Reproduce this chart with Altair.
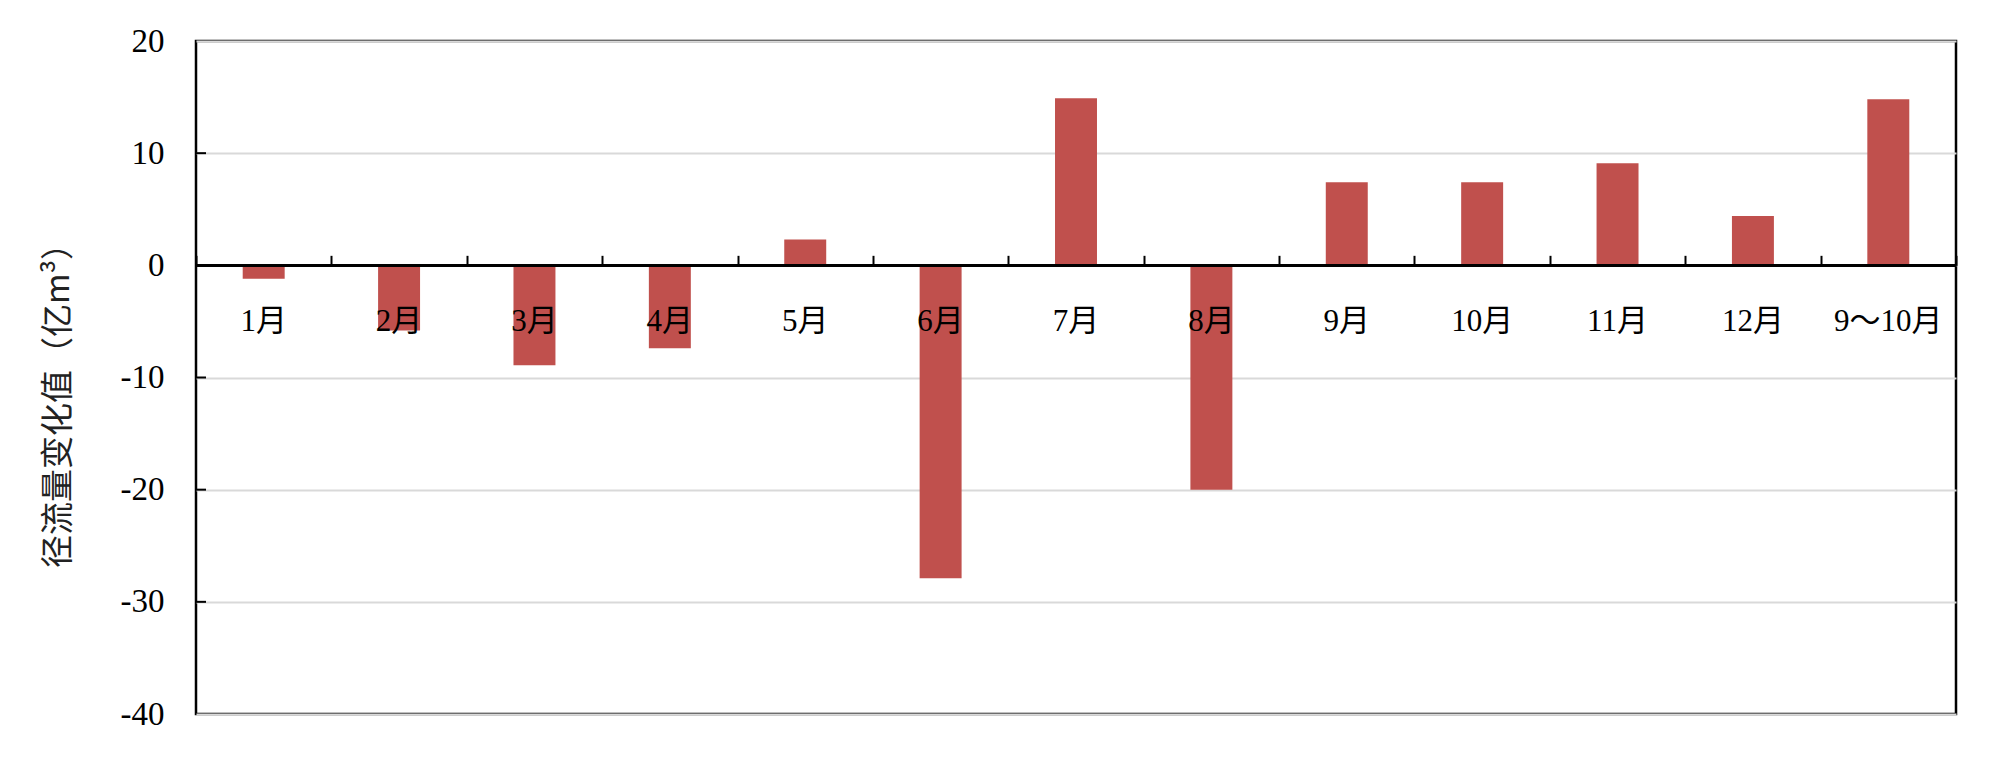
import altair as alt
import pandas as pd

months = ["1月", "2月", "3月", "4月", "5月", "6月", "7月", "8月", "9月", "10月", "11月", "12月", "9～10月"]
values = [-1.2, -5.8, -8.9, -7.4, 2.3, -27.9, 14.9, -20.0, 7.4, 7.4, 9.1, 4.4, 14.8]
y_ticks = [-40, -30, -20, -10, 0, 10, 20]
inner_ticks = [-30, -20, -10, 0, 10]

df = pd.DataFrame({"month": months, "value": values})
tick_df = pd.DataFrame({"v": inner_ticks})

W, H = 1760, 673
YMIN, YMAX = -40, 20
zero_from_top = H * (YMAX - 0) / (YMAX - YMIN)

LABEL_FONT = "Liberation Serif, Times New Roman, Noto Sans CJK SC"
TITLE_FONT = "Noto Sans CJK SC"

xscale = alt.Scale(domain=months, paddingInner=0, paddingOuter=0)
yscale = alt.Scale(domain=[YMIN, YMAX], nice=False)

bars = alt.Chart(df).mark_bar(color="#C0504D", width=alt.RelativeBandSize(0.31)).encode(
    x=alt.X("month:N", sort=months, scale=xscale,
            axis=alt.Axis(orient="bottom", offset=-(H - zero_from_top), title=None,
                          ticks=False, domain=False, grid=False, labelAngle=0,
                          labelFont=LABEL_FONT, labelFontSize=31, labelColor="black",
                          labelPadding=41, labelBaseline="top", zindex=2)),
    y=alt.Y("value:Q", scale=yscale,
            axis=alt.Axis(orient="left", values=y_ticks, labelExpr="datum.value",
                          title="径流量变化值（亿m³）", titleFont=TITLE_FONT,
                          titleFontSize=33, titleFontWeight="normal", titleColor="#222222",
                          titlePadding=45, titleY=356,
                          ticks=False, domain=False, grid=True, gridColor="#d9d9d9",
                          gridWidth=2, labelFont=LABEL_FONT, labelFontSize=33,
                          labelColor="black", labelPadding=32)),
)

tick_layer = alt.Chart(df).mark_bar(opacity=0).encode(
    x=alt.X("month:N", sort=months, scale=xscale,
            axis=alt.Axis(orient="top", offset=-zero_from_top, title=None, labels=False,
                          domain=False, grid=False, ticks=True, tickBand="extent",
                          tickSize=10, tickColor="black", tickWidth=2)),
    y=alt.Y("value:Q", scale=yscale, axis=None),
)

ytick_rules = alt.Chart(tick_df).mark_rule(color="black", strokeWidth=2).encode(
    y=alt.Y("v:Q", scale=yscale, axis=None),
    x=alt.value(0),
    x2=alt.value(10),
)

zero = alt.Chart(df).mark_rule(color="black", strokeWidth=2.5).encode(
    y=alt.datum(0, scale=yscale, axis=None)
)

chart = (
    alt.layer(bars, tick_layer, ytick_rules, zero)
    .resolve_axis(x="independent", y="independent")
    .properties(width=W, height=H, padding={"left": 34, "top": 17, "right": 5, "bottom": 5})
    .configure(background="white")
    .configure_view(stroke="black", strokeWidth=2.5)
)

chart.save("out.html", embed_options={"renderer": "svg", "actions": False})
